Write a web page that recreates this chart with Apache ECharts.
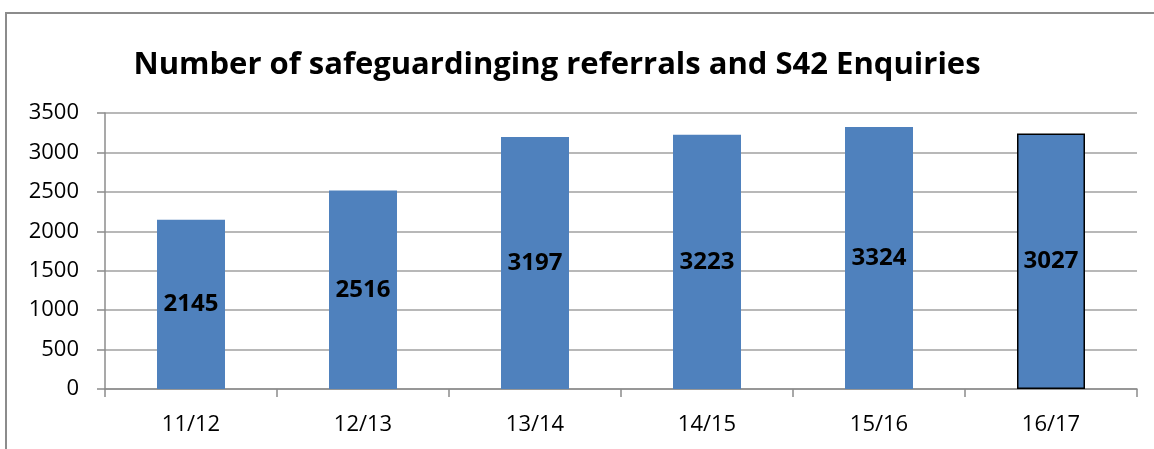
<!DOCTYPE html>
<html><head><meta charset="utf-8">
<script src="https://cdn.jsdelivr.net/npm/echarts@6/dist/echarts.min.js"></script>
<style>html,body{margin:0;padding:0;background:#fff}#c{width:1154px;height:449px}</style>
</head><body><div id="c"></div>
<script>
var categories = ['11/12','12/13','13/14','14/15','15/16','16/17'];
var barValues = [2145, 2516, 3197, 3223, 3324, 3240];
var barLabels = ['2145','2516','3197','3223','3324','3027'];
var yTicks = [0, 500, 1000, 1500, 2000, 2500, 3000, 3500];
var titleText = 'Number of safeguardinging referrals and S42 Enquiries';

var chart = echarts.init(document.getElementById('c'));
var fontFam = '"Open Sans", Lato, sans-serif';
chart.setOption({
  animation: false,
  graphic: [
    {type:'line', shape:{x1:5, y1:13, x2:1154, y2:13}, style:{stroke:'#8c8c8c', lineWidth:2}},
    {type:'line', shape:{x1:6, y1:13, x2:6, y2:449}, style:{stroke:'#8c8c8c', lineWidth:2}}
  ],
  title: {
    text: titleText, left: 552, top: 45, textAlign: 'center',
    textStyle: {fontFamily: fontFam, fontWeight: 'bold', fontSize: 31, color: '#000'}
  },
  grid: {left: 105, right: 17, top: 113, bottom: 60, containLabel: false},
  xAxis: {
    type: 'category', data: categories, boundaryGap: true,
    axisLine: {lineStyle: {color: '#8c8c8c', width: 1.5}},
    axisTick: {show: true, length: 8, lineStyle: {color: '#8c8c8c', width: 1.5}},
    axisLabel: {color: '#000', fontFamily: fontFam, fontSize: 22, margin: 25}
  },
  yAxis: {
    type: 'value', min: 0, max: 3500, interval: 500,
    axisLine: {show: true, lineStyle: {color: '#8c8c8c', width: 1.5}},
    axisTick: {show: true, length: 8, lineStyle: {color: '#8c8c8c', width: 1.5}},
    splitLine: {lineStyle: {color: '#a0a0a0', width: 1.5}},
    axisLabel: {color: '#000', fontFamily: fontFam, fontSize: 22, margin: 26,
      formatter: function(v){ return yTicks.indexOf(v) >= 0 ? String(v) : ''; }}
  },
  series: [{
    type: 'bar', barWidth: 68,
    data: barValues.map(function(v, i){
      var d = {value: v, itemStyle: {color: '#4f81bd'}};
      if (i === barValues.length - 1) d.itemStyle = {color: '#4f81bd', borderColor: '#000', borderWidth: 1.5};
      return d;
    }),
    label: {
      show: true, position: 'inside',
      formatter: function(p){ return barLabels[p.dataIndex]; },
      color: '#000', fontFamily: fontFam, fontWeight: 'bold', fontSize: 24
    }
  }]
});
</script></body></html>
